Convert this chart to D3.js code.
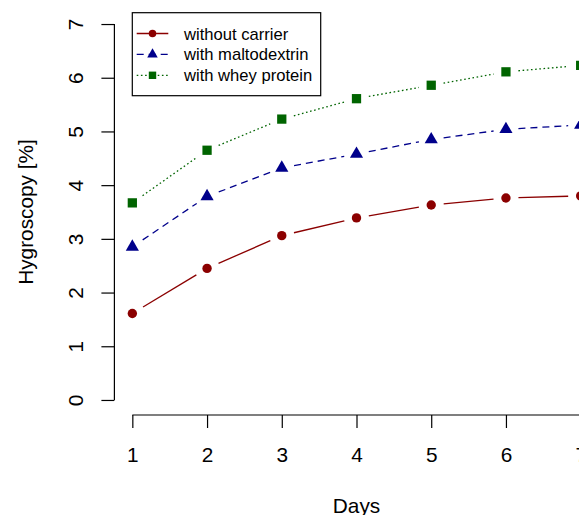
<!DOCTYPE html>
<html><head><meta charset="utf-8">
<script src="https://cdn.jsdelivr.net/npm/d3@7"></script>
<style>html,body{margin:0;padding:0;background:#fff;overflow:hidden}</style>
</head><body>
<svg id="chart" width="579" height="515"></svg>
<script>
const days = [1, 2, 3, 4, 5, 6, 7];
const withoutCarrier = [1.61, 2.45, 3.06, 3.39, 3.63, 3.76, 3.80];
const withMaltodextrin = [2.85, 3.79, 4.32, 4.58, 4.85, 5.04, 5.12];
const withWheyProtein = [3.67, 4.65, 5.23, 5.61, 5.86, 6.11, 6.23];
const yTicks = [0, 1, 2, 3, 4, 5, 6, 7];
const seriesNames = ["without carrier", "with maltodextrin", "with whey protein"];
const xLabel = "Days";
const yLabel = "Hygroscopy [%]";

const series = [
  {name: seriesNames[0], values: withoutCarrier, color: "#8B0000", dash: null, symbol: d3.symbolCircle, size: 69},
  {name: seriesNames[1], values: withMaltodextrin, color: "#00008B", dash: "7,5", symbol: d3.symbolTriangle, size: 75},
  {name: seriesNames[2], values: withWheyProtein, color: "#006400", dash: "1.6,2.6", symbol: d3.symbolSquare, size: 86}
];

const svg = d3.select("#chart");
const font = "'Liberation Sans', Arial, sans-serif";
const mLeft = 114.4, mRight = 598.6, mTop = 9, mBottom = 415;
const x = d3.scaleLinear().domain([0.76, 7.24]).range([mLeft, mRight]);
const y = d3.scaleLinear().domain([-0.28, 7.28]).range([mBottom, mTop]);

// y axis
const ya = svg.append("g").attr("transform", `translate(${mLeft},0)`)
  .call(d3.axisLeft(y).tickValues(yTicks).tickSize(13).tickSizeOuter(0).tickFormat(d3.format("d")));
ya.select(".domain").attr("d", `M0,${y(0)}V${y(7)}`);
ya.selectAll("line, path").attr("stroke", "#000").attr("stroke-width", 1.2);
ya.selectAll("text").attr("font-family", font).attr("font-size", 20.8).attr("fill", "#000")
  .attr("x", 0).attr("y", 0).attr("dy", null).attr("text-anchor", "middle")
  .attr("transform", "translate(-31,0) rotate(-90)");

// x axis
const xa = svg.append("g").attr("transform", `translate(0,${mBottom})`)
  .call(d3.axisBottom(x).tickValues(days).tickSize(13).tickSizeOuter(0).tickFormat(d3.format("d")));
xa.select(".domain").attr("d", `M${x(1)},0H${x(7)}`);
xa.selectAll("line, path").attr("stroke", "#000").attr("stroke-width", 1.2);
xa.selectAll("text").attr("font-family", font).attr("font-size", 20.8).attr("fill", "#000")
  .attr("y", 47).attr("dy", null);

// axis titles
svg.append("text").attr("x", x(4)).attr("y", 513).attr("text-anchor", "middle")
  .attr("font-family", font).attr("font-size", 20.8).text(xLabel);
svg.append("text").attr("transform", `translate(32.7,${(mTop + mBottom) / 2}) rotate(-90)`)
  .attr("text-anchor", "middle").attr("font-family", font).attr("font-size", 20.8).text(yLabel);

// series
const gap = 12.5;
series.forEach(s => {
  const g = svg.append("g");
  const pts = s.values.map((v, i) => [x(days[i]), y(v)]);
  for (let i = 0; i < pts.length - 1; i++) {
    const [x0, y0] = pts[i], [x1, y1] = pts[i + 1];
    const len = Math.hypot(x1 - x0, y1 - y0);
    if (len <= 2 * gap) continue;
    const ux = (x1 - x0) / len, uy = (y1 - y0) / len;
    g.append("line")
      .attr("x1", x0 + ux * gap).attr("y1", y0 + uy * gap)
      .attr("x2", x1 - ux * gap).attr("y2", y1 - uy * gap)
      .attr("stroke", s.color).attr("stroke-width", 1.3)
      .attr("stroke-dasharray", s.dash);
  }
  g.selectAll("path.pt").data(s.values).join("path")
    .attr("class", "pt")
    .attr("transform", (v, i) => `translate(${x(days[i])},${y(v)})`)
    .attr("d", d3.symbol().type(s.symbol).size(s.size))
    .attr("fill", s.color);
});

// legend
const lg = svg.append("g");
lg.append("rect").attr("x", 132.3).attr("y", 12.7).attr("width", 188.4).attr("height", 83)
  .attr("fill", "#fff").attr("stroke", "#000").attr("stroke-width", 1.2);
series.forEach((s, i) => {
  const cy = 33.5 + i * 20.9;
  lg.append("line").attr("x1", 136.7).attr("x2", 168.3).attr("y1", cy).attr("y2", cy)
    .attr("stroke", s.color).attr("stroke-width", 1.3).attr("stroke-dasharray", s.dash);
  lg.append("path").attr("transform", `translate(152.5,${cy})`)
    .attr("d", d3.symbol().type(s.symbol).size(s.size * 0.64)).attr("fill", s.color);
  lg.append("text").attr("x", 184).attr("y", cy + 6).attr("font-family", font)
    .attr("font-size", 16.6).attr("fill", "#000").text(s.name);
});
</script>
</body></html>
